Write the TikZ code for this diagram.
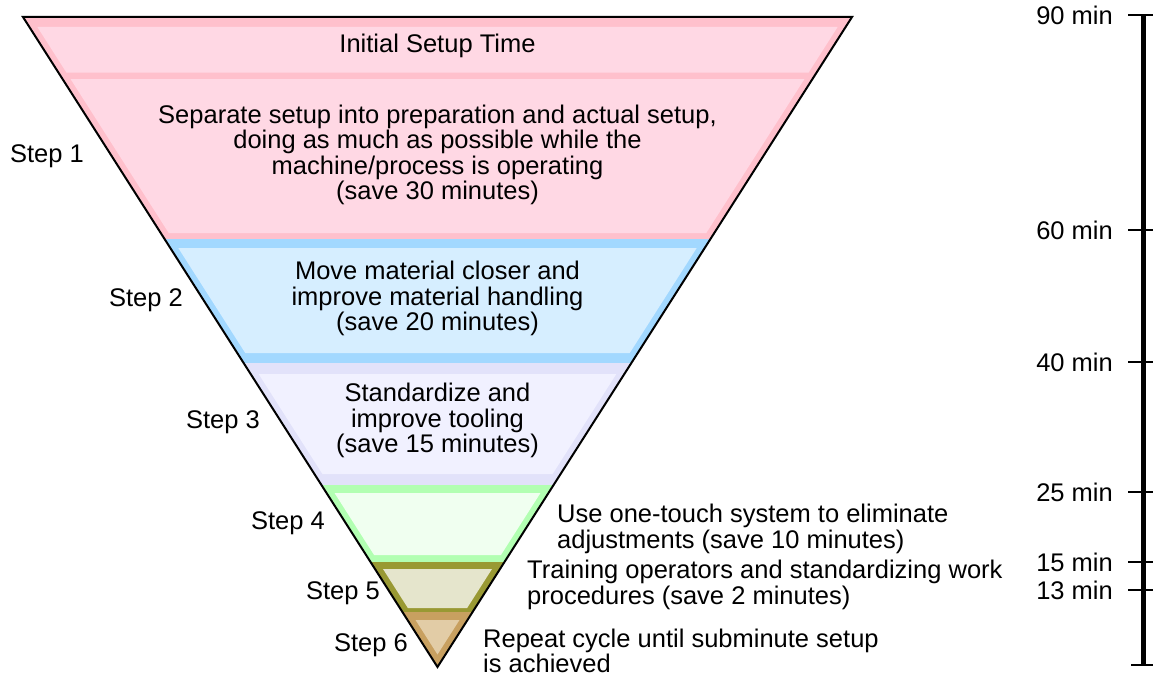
\documentclass[tikz,border=0pt]{standalone}
\usepackage{fontspec}
\setmainfont{Liberation Sans}
\usetikzlibrary{positioning,calc}

\definecolor{pinkedge}{RGB}{255,192,204}
\definecolor{pinkfill}{RGB}{255,216,228}
\definecolor{blueedge}{RGB}{162,216,255}
\definecolor{bluefill}{RGB}{214,238,255}
\definecolor{lavedge}{RGB}{226,226,250}
\definecolor{lavfill}{RGB}{241,241,255}
\definecolor{greenedge}{RGB}{178,255,178}
\definecolor{greenfill}{RGB}{240,255,240}
\definecolor{oliveedge}{RGB}{153,153,51}
\definecolor{olivefill}{RGB}{229,229,204}
\definecolor{tanedge}{RGB}{200,160,96}
\definecolor{tanfill}{RGB}{226,204,166}

\begin{document}
\begin{tikzpicture}[
    x=1pt, y=-1pt,
    txt/.style={inner sep=0pt, font=\fontsize{25.5}{25.5}\selectfont},
    inside/.style={txt, align=center},
    aside/.style={txt, align=left, anchor=west},
    steplabel/.style={txt, anchor=east},
    minlabel/.style={txt},
    tick/.style={line width=1.5pt},
    axis/.style={line width=5pt}
]

\useasboundingbox (0,0) rectangle (1153,677);

\foreach \ya/\yb/\ia/\ib/\ec/\fc in {
    17/76/27/72.7/pinkedge/pinkfill,
    76/239/79/233/pinkedge/pinkfill,
    239/363/248/353/blueedge/bluefill,
    363/485/374/474/lavedge/lavfill,
    485/562/493/555/greenedge/greenfill,
    562/612/569/608/oliveedge/olivefill,
    612/667/620/654.5/tanedge/tanfill}{
    \pgfmathsetmacro\wa{0.6377*(667-\ya)}
    \pgfmathsetmacro\wb{0.6377*(667-\yb)}
    \pgfmathsetmacro\wc{0.6377*(667-\ia)-8}
    \pgfmathsetmacro\wd{max(0.6377*(667-\ib)-8,0)}
    \fill[\ec] (437.5-\wa,\ya) -- (437.5+\wa,\ya) -- (437.5+\wb,\yb) -- (437.5-\wb,\yb) -- cycle;
    \fill[\fc] (437.5-\wc,\ia) -- (437.5+\wc,\ia) -- (437.5+\wd,\ib) -- (437.5-\wd,\ib) -- cycle;
}

\draw[line width=2pt, line join=miter] (23,17) -- (852,17) -- (437.5,667) -- cycle;

\node[inside] (init) at (437.5,46) {Initial Setup Time};
\node[inside] (separate) at (437.5,155) {Separate setup into preparation and actual setup,\\doing as much as possible while the\\machine/process is operating\\(save 30 minutes)};
\node[inside] (move) at (437.5,298.5) {Move material closer and\\improve material handling\\(save 20 minutes)};
\node[inside] (tooling) at (437.5,420.5) {Standardize and\\improve tooling\\(save 15 minutes)};
\node[aside] (touch) at (557,529) {Use one-touch system to eliminate\\adjustments (save 10 minutes)};
\node[aside] (train) at (527,585) {Training operators and standardizing work\\procedures (save 2 minutes)};
\node[aside] (repeat) at (483,651) {Repeat cycle until subminute setup\\is achieved};

\node[steplabel] (s1) at (84,156) {Step 1};
\node[steplabel] (s2) at (183,300) {Step 2};
\node[steplabel] (s3) at (260,422) {Step 3};
\node[steplabel] (s4) at (325,523) {Step 4};
\node[steplabel] (s5) at (380,593) {Step 5};
\node[steplabel] (s6) at (408,645) {Step 6};

\coordinate (t90) at (1143,15);
\coordinate (t60) at (1143,230);
\coordinate (t40) at (1143,362);
\coordinate (t25) at (1143,492);
\coordinate (t15) at (1143,562);
\coordinate (t13) at (1143,590);
\coordinate (t0) at (1143,665);

\draw[axis] (t90) -- (t0);
\foreach \t in {t90,t60,t40,t25,t15,t13}
    \draw[tick] (\t) ++(-15,0) -- ++(25,0);
\draw[tick] (t0) ++(-12,0) -- ++(22,0);

\node[minlabel, left=30pt of t90] (l90) {90 min};
\node[minlabel, left=30pt of t60] (l60) {60 min};
\node[minlabel, left=30pt of t40] (l40) {40 min};
\node[minlabel, left=30pt of t25] (l25) {25 min};
\node[minlabel, left=30pt of t15] (l15) {15 min};
\node[minlabel, left=30pt of t13] (l13) {13 min};

\end{tikzpicture}
\end{document}
